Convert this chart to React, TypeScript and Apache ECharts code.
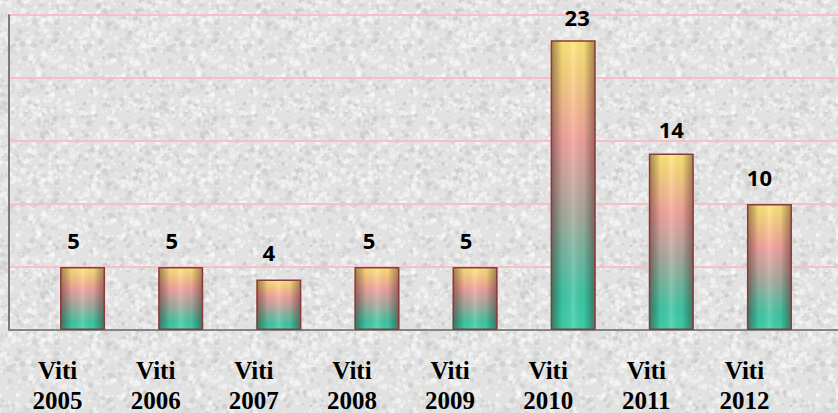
import React, { useEffect, useRef } from "react";
import * as echarts from "echarts";

const categories = ["Viti\n2005", "Viti\n2006", "Viti\n2007", "Viti\n2008", "Viti\n2009", "Viti\n2010", "Viti\n2011", "Viti\n2012"];
const values = [5, 5, 4, 5, 5, 23, 14, 10];
const yMin = 0;
const yMax = 25;
const yInterval = 5;

function makeTexture(): HTMLCanvasElement | null {
  try {
    const c = document.createElement("canvas");
    c.width = 160;
    c.height = 160;
    const ctx = c.getContext("2d");
    if (!ctx) return null;
    ctx.fillStyle = "#e2e2e2";
    ctx.fillRect(0, 0, 160, 160);
    let s = 12345;
    const rnd = () => {
      s = (s * 1103515245 + 12345) % 2147483648;
      return s / 2147483648;
    };
    for (let i = 0; i < 1400; i++) {
      const x = rnd() * 160;
      const y = rnd() * 160;
      const r = 0.8 + rnd() * 2.2;
      const light = rnd() < 0.55;
      const v = light ? 240 + Math.floor(rnd() * 15) : 195 + Math.floor(rnd() * 25);
      ctx.fillStyle = `rgba(${v},${v},${v},0.55)`;
      for (const dx of [-160, 0, 160]) {
        for (const dy of [-160, 0, 160]) {
          ctx.beginPath();
          ctx.arc(x + dx, y + dy, r, 0, Math.PI * 2);
          ctx.fill();
        }
      }
    }
    return c;
  } catch (e) {
    return null;
  }
}

export default function App() {
  const ref = useRef<HTMLDivElement>(null);
  useEffect(() => {
    if (!ref.current) return;
    const chart = echarts.init(ref.current, null, { renderer: "svg" });
    const gridTop = 15;
    const gridBottom = 83;
    const tex = makeTexture();
    const labelOffsets = [[-9, 0], [-9, 0], [-10, -1], [-8, 0], [-9, 0], [4, 4], [0, 2], [-10, 0]];
    chart.setOption({
      animation: false,
      backgroundColor: tex ? { image: tex, repeat: "repeat" } : "#e3e3e3",
      grid: [
        { left: 33.5, right: 19.5, top: gridTop, bottom: gridBottom, containLabel: false, outerBoundsMode: "none" },
        { left: 9, right: -2, top: gridTop, bottom: gridBottom, containLabel: false, outerBoundsMode: "none" },
      ],
      xAxis: [
        {
          type: "category",
          gridIndex: 0,
          data: categories,
          axisLine: { show: false },
          axisTick: { show: false },
          axisLabel: {
            margin: 25,
            fontFamily: "Liberation Serif",
            fontWeight: "bold",
            fontSize: 25,
            lineHeight: 30,
            color: "#000",
            padding: [0, 50, 0, 0],
            interval: 0,
          },
        },
        {
          type: "value",
          gridIndex: 1,
          min: 0,
          max: 1,
          axisLine: { show: true, onZero: false, lineStyle: { color: "#858585", width: 2 } },
          axisTick: { show: false },
          axisLabel: { show: false },
          splitLine: { show: false },
        },
      ],
      yAxis: [
        {
          type: "value",
          gridIndex: 0,
          min: yMin,
          max: yMax,
          interval: yInterval,
          axisLine: { show: false },
          axisTick: { show: false },
          axisLabel: { show: false },
          splitLine: { show: false },
        },
        {
          type: "value",
          gridIndex: 1,
          min: yMin,
          max: yMax,
          interval: yInterval,
          axisLine: { show: true, lineStyle: { color: "#7a7a7a", width: 2 } },
          axisTick: { show: false },
          axisLabel: { show: false },
          splitLine: { show: true, lineStyle: { color: "#f7bfc7", width: 2 } },
        },
      ],
      series: [
        {
          type: "bar",
          xAxisIndex: 0,
          yAxisIndex: 0,
          data: values.map((v, i) => ({ value: v, label: { offset: labelOffsets[i] } })),
          barWidth: 45,
          itemStyle: {
            color: new echarts.graphic.LinearGradient(0, 0, 0, 1, [
              { offset: 0, color: "#ffe97a" },
              { offset: 0.1, color: "#fbd57e" },
              { offset: 0.35, color: "#f2a39f" },
              { offset: 0.6, color: "#a9ab9f" },
              { offset: 0.88, color: "#3fc9a6" },
              { offset: 1, color: "#3ed3ae" },
            ]),
          },
          label: {
            show: true,
            position: "top",
            distance: 16,
            fontFamily: "Open Sans",
            fontWeight: "bold",
            fontSize: 22,
            color: "#000",
          },
          z: 2,
        },
        {
          type: "bar",
          xAxisIndex: 0,
          yAxisIndex: 0,
          data: values,
          barWidth: 45,
          barGap: "-100%",
          silent: true,
          itemStyle: {
            color: new echarts.graphic.LinearGradient(0, 0, 1, 0, [
              { offset: 0, color: "rgba(60,20,20,0.45)" },
              { offset: 0.25, color: "rgba(0,0,0,0.04)" },
              { offset: 0.5, color: "rgba(255,255,255,0.14)" },
              { offset: 0.75, color: "rgba(0,0,0,0.04)" },
              { offset: 1, color: "rgba(60,20,20,0.45)" },
            ]),
            borderColor: "#8a3b3b",
            borderWidth: 1.5,
          },
          z: 3,
        },
      ],
    });
    return () => chart.dispose();
  }, []);
  return <div ref={ref} style={{ width: 838, height: 413, position: "absolute", left: 0, top: 0 }} />;
}
